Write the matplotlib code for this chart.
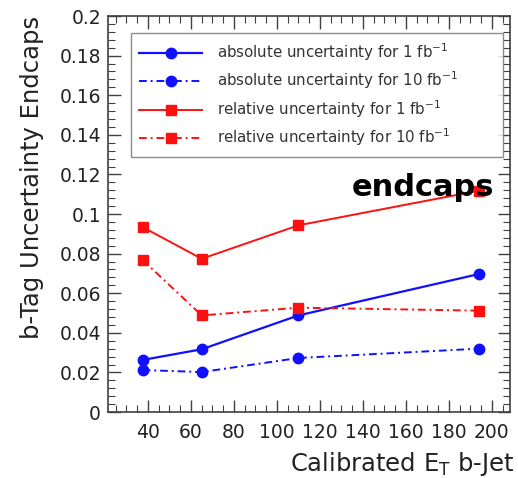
import numpy as np
import matplotlib
matplotlib.use("Agg")
import matplotlib.pyplot as plt
from matplotlib.ticker import MultipleLocator

# b-jet ET points (GeV)
et = [37.5, 65, 110, 194]

abs_1fb = [0.0263, 0.0317, 0.0488, 0.0697]
abs_10fb = [0.0212, 0.0202, 0.0273, 0.0320]
rel_1fb = [0.0934, 0.0774, 0.0943, 0.1118]
rel_10fb = [0.0768, 0.0488, 0.0527, 0.0512]

labels = [
    r"absolute uncertainty for 1 fb$^\mathregular{-1}$",
    r"absolute uncertainty for 10 fb$^\mathregular{-1}$",
    r"relative uncertainty for 1 fb$^\mathregular{-1}$",
    r"relative uncertainty for 10 fb$^\mathregular{-1}$",
]

plt.rcParams['font.family'] = ['DejaVu Sans']

fig = plt.figure(figsize=(5.18, 4.78), dpi=100)
ax = fig.add_axes([0.2085, 0.138, 0.776, 0.8285])

dashdot = (0, (4, 2, 1, 2))
ax.plot(et, abs_1fb, color='#1010ff', lw=1.6, marker='o', ms=7.5, label=labels[0])
ax.plot(et, abs_10fb, color='#1010ff', lw=1.4, ls=dashdot, marker='o', ms=7.5, label=labels[1])
ax.plot(et, rel_1fb, color='#ff1010', lw=1.4, marker='s', ms=7, label=labels[2])
ax.plot(et, rel_10fb, color='#ff1010', lw=1.4, ls=dashdot, marker='s', ms=7, label=labels[3])

ax.set_xlim(21.4, 208.4)
ax.set_ylim(0, 0.2)

ax.xaxis.set_minor_locator(MultipleLocator(5))
ax.yaxis.set_minor_locator(MultipleLocator(0.004))
ax.set_xticks(np.arange(40, 201, 20))
ax.set_yticks(np.arange(0, 0.201, 0.02))
ax.set_yticklabels(['0', '0.02', '0.04', '0.06', '0.08', '0.1', '0.12',
                    '0.14', '0.16', '0.18', '0.2'])

ax.tick_params(which='both', direction='in', top=True, right=True, labelsize=13.5,
               color='#404040', labelcolor='#222222')
ax.tick_params(which='major', length=9, width=1)
ax.tick_params(which='minor', length=5, width=0.8)
ax.tick_params(axis='x', pad=8)
ax.tick_params(axis='y', pad=5)
for s in ax.spines.values():
    s.set_color('#404040')
    s.set_linewidth(1.2)

ax.set_ylabel('b-Tag Uncertainty Endcaps', fontsize=17.5, color='#222222')
ax.yaxis.set_label_coords(-0.16, 1.0, transform=ax.transAxes)
ax.yaxis.label.set_ha('right')
ax.set_xlabel(r'Calibrated E$_\mathregular{T}$ b-Jet', fontsize=17.5, color='#222222', ha='right')
ax.xaxis.set_label_coords(1.01, -0.095)

ax.text(201, 0.1135, 'endcaps', fontsize=22, fontweight='bold', ha='right', va='center',
        color='black')

leg = ax.legend(loc='upper left', bbox_to_anchor=(0.057, 0.957, 0.926, 0.0), mode='expand',
                fontsize=10.8, handlelength=4.2, handletextpad=1.0, frameon=True, fancybox=False,
                borderaxespad=0, labelspacing=0.45, borderpad=0.55)
leg.get_frame().set_edgecolor('#707070')
leg.get_frame().set_linewidth(1.0)
for t in leg.get_texts():
    t.set_color('#333333')

fig.savefig('out.png', dpi=100)
